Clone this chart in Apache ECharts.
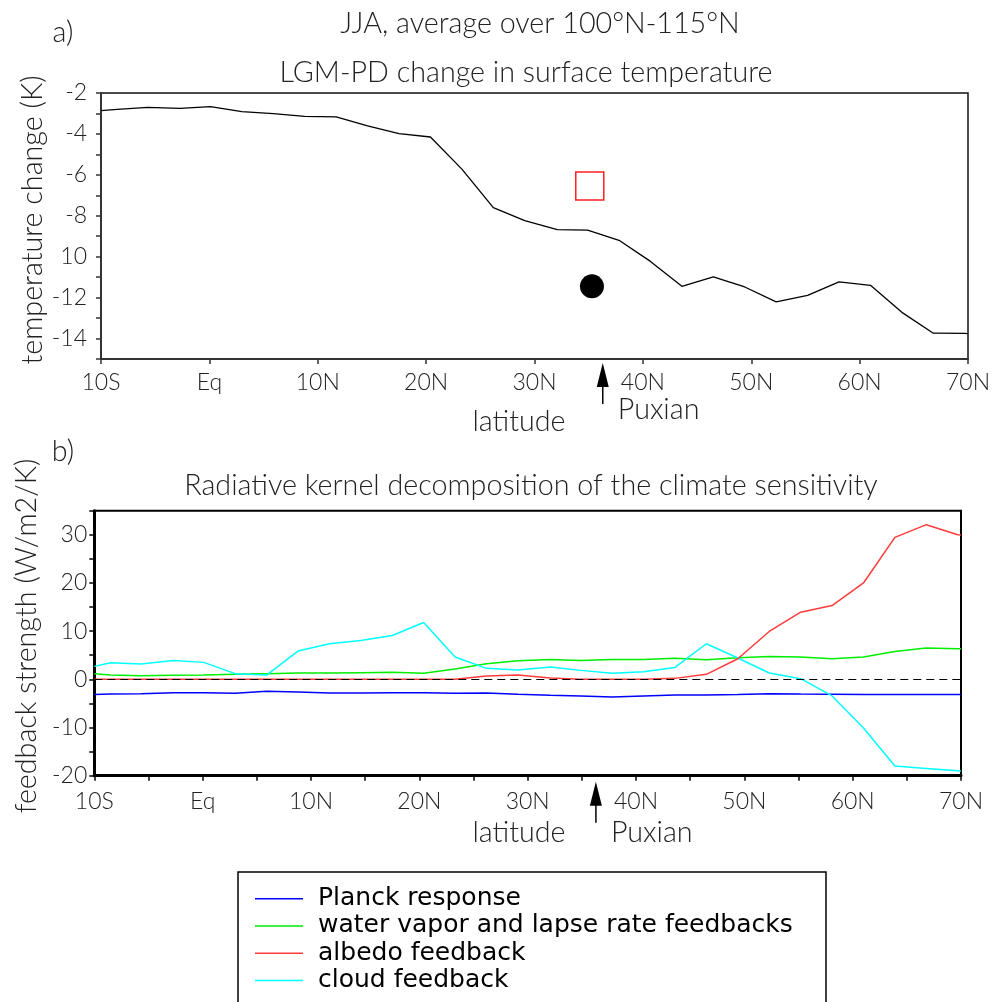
<!DOCTYPE html>
<html><head><meta charset="utf-8">
<script src="https://cdn.jsdelivr.net/npm/echarts@6/dist/echarts.min.js"></script>
<style>html,body{margin:0;padding:0;background:#fff}#c{width:995px;height:1002px}</style>
</head><body><div id="c"></div>
<script>
// ---- data ----
const lats = [-10, -8.5, -5.7, -2.7, 0.1, 3.0, 5.9, 8.8, 11.7, 14.6, 17.5, 20.4, 23.3, 26.2, 29.1, 32.1, 34.9, 37.8, 40.7, 43.6, 46.5, 49.4, 52.3, 55.2, 58.1, 61.0, 63.9, 66.8, 69.7, 70];
const tempChange = [-2.86, -2.80, -2.70, -2.75, -2.67, -2.91, -3.01, -3.14, -3.17, -3.61, -3.99, -4.15, -5.72, -7.60, -8.24, -8.68, -8.70, -9.20, -10.23, -11.45, -10.99, -11.48, -12.21, -11.89, -11.23, -11.40, -12.72, -13.74, -13.75, -13.76];
const planck = [-3.17, -3.04, -2.97, -2.76, -2.76, -2.90, -2.48, -2.62, -2.83, -2.83, -2.76, -2.76, -2.90, -2.83, -3.10, -3.31, -3.45, -3.66, -3.45, -3.24, -3.24, -3.17, -2.97, -3.04, -3.10, -3.17, -3.17, -3.17, -3.17, -3.17];
const waterVapor = [1.18, 0.89, 0.77, 0.83, 0.89, 1.04, 1.18, 1.30, 1.30, 1.39, 1.45, 1.24, 2.14, 3.24, 3.86, 4.14, 3.93, 4.14, 4.14, 4.40, 4.07, 4.49, 4.76, 4.62, 4.28, 4.62, 5.80, 6.49, 6.35, 6.35];
const albedo = [0, 0, 0, 0, 0, 0, 0, 0, 0, 0, 0, 0, 0, 0.69, 0.90, 0.28, 0, 0, 0, 0.20, 1.04, 4.28, 9.94, 13.93, 15.32, 20.0, 29.46, 32.1, 30.0, 29.96];
const cloud = [2.69, 3.46, 3.17, 3.93, 3.52, 1.18, 0.89, 5.86, 7.39, 8.07, 9.11, 11.8, 4.62, 2.28, 1.93, 2.55, 1.86, 1.24, 1.59, 2.48, 7.39, 4.42, 1.31, 0.14, -3.45, -10.08, -18.0, -18.5, -18.98, -19.0];
const pollenPoint = [35.1, -6.55];
const modelPoint = [35.3, -11.45];
const puxianLat = 36.3;
const xTickValues = [-10, 0, 10, 20, 30, 40, 50, 60, 70];
const xTickLabels = ['10S', 'Eq', '10N', '20N', '30N', '40N', '50N', '60N', '70N'];
const yTopTickValues = [-14, -12, -10, -8, -6, -4, -2];
const yTopTickLabels = ['-14', '-12', '10', '-8', '-6', '-4', '-2'];
const yBotTickValues = [-20, -10, 0, 10, 20, 30];
const yBotTickLabels = ['-20', '-10', '0', '10', '20', '30'];
const seriesNames = ['Planck response', 'water vapor and lapse rate feedbacks', 'albedo feedback', 'cloud feedback'];
const seriesColors = ['#0000ff', '#00ee00', '#ff3b3b', '#00ffff'];

// ---- chart ----
const pair = arr => lats.map((x, i) => [x, arr[i]]);
const lookup = (vals, labs) => v => { const i = vals.indexOf(v); return i >= 0 ? labs[i] : ''; };
const FONT = 'Lato';
const TXT = '#222';
const chart = echarts.init(document.getElementById('c'), null, {renderer: 'canvas'});

const axisLabelStyle = {fontFamily: FONT, fontSize: 23, fontWeight: 300, color: TXT};

const option = {
  animation: false,
  backgroundColor: '#fff',
  grid: [
    {left: 101, top: 93, right: 27, bottom: 643, show: true, borderColor: '#111', borderWidth: 1.5},
    {left: 94.3, top: 510.7, right: 34, bottom: 226.3, show: true, borderColor: '#000', borderWidth: 2}
  ],
  xAxis: [
    {gridIndex: 0, type: 'value', min: -10, max: 70, interval: 10,
     axisLine: {onZero: false, lineStyle: {color: '#333', width: 2}},
     axisTick: {show: true, length: 5, lineStyle: {color: '#333', width: 1.5}},
     axisLabel: Object.assign({margin: 12, formatter: lookup(xTickValues, xTickLabels)}, axisLabelStyle),
     splitLine: {show: false}},
    {gridIndex: 1, type: 'value', min: -10, max: 70, interval: 5,
     axisLine: {onZero: false, lineStyle: {color: '#000', width: 3}},
     axisTick: {show: true, length: 5, lineStyle: {color: '#000', width: 1.5}},
     axisLabel: Object.assign({margin: 14, formatter: lookup(xTickValues, xTickLabels), showMinLabel: true, showMaxLabel: true}, axisLabelStyle),
     splitLine: {show: false}}
  ],
  yAxis: [
    {gridIndex: 0, type: 'value', min: -15, max: -2, interval: 1,
     axisLine: {show: true, onZero: false, lineStyle: {color: '#333', width: 2}},
     axisTick: {show: true, length: 5, lineStyle: {color: '#333', width: 1.5}},
     axisLabel: Object.assign({margin: 14, formatter: lookup(yTopTickValues, yTopTickLabels), showMinLabel: true, showMaxLabel: true}, axisLabelStyle),
     splitLine: {show: false}},
    {gridIndex: 1, type: 'value', min: -20, max: 35, interval: 5,
     axisLine: {show: true, onZero: false, lineStyle: {color: '#000', width: 3}},
     axisTick: {show: true, length: 5, lineStyle: {color: '#000', width: 1.5}},
     axisLabel: Object.assign({margin: 7, formatter: lookup(yBotTickValues, yBotTickLabels), showMinLabel: true, showMaxLabel: true}, axisLabelStyle),
     splitLine: {show: false}}
  ],
  legend: {
    orient: 'vertical', left: 255, top: 885, padding: 0,
    itemGap: 0, itemWidth: 48, itemHeight: 1.5, icon: 'rect',
    textStyle: {fontFamily: 'DejaVu Sans', fontSize: 25, color: '#000', lineHeight: 27.3, padding: [0, 0, 0, 10]},
    data: seriesNames
  },
  series: [
    {type: 'line', name: 'temperature change', xAxisIndex: 0, yAxisIndex: 0, data: pair(tempChange),
     symbol: 'none', lineStyle: {color: '#000', width: 1.3}, itemStyle: {color: '#000'}},
    {type: 'scatter', name: 'pollen', xAxisIndex: 0, yAxisIndex: 0, data: [pollenPoint],
     symbol: 'rect', symbolSize: 28, itemStyle: {color: 'rgba(0,0,0,0)', borderColor: '#ff2020', borderWidth: 1.5, opacity: 1}},
    {type: 'scatter', name: 'model', xAxisIndex: 0, yAxisIndex: 0, data: [modelPoint],
     symbol: 'circle', symbolSize: 24, itemStyle: {color: '#000', opacity: 1}},
    {type: 'line', name: seriesNames[0], xAxisIndex: 1, yAxisIndex: 1, data: pair(planck), symbol: 'none',
     lineStyle: {color: seriesColors[0], width: 1.5}, itemStyle: {color: seriesColors[0]}, z: 3,
     markLine: {silent: true, symbol: 'none', label: {show: false}, lineStyle: {type: [8, 5], color: '#000', width: 1}, data: [{yAxis: 0}]}},
    {type: 'line', name: seriesNames[1], xAxisIndex: 1, yAxisIndex: 1, data: pair(waterVapor), symbol: 'none',
     lineStyle: {color: seriesColors[1], width: 1.5}, itemStyle: {color: seriesColors[1]}, z: 3},
    {type: 'line', name: seriesNames[2], xAxisIndex: 1, yAxisIndex: 1, data: pair(albedo), symbol: 'none',
     lineStyle: {color: seriesColors[2], width: 1.5}, itemStyle: {color: seriesColors[2]}, z: 4},
    {type: 'line', name: seriesNames[3], xAxisIndex: 1, yAxisIndex: 1, data: pair(cloud), symbol: 'none',
     lineStyle: {color: seriesColors[3], width: 1.5}, itemStyle: {color: seriesColors[3]}, z: 3}
  ]
};
chart.setOption(option);

function txt(text, x, y, opts) {
  return Object.assign({type: 'text', x: x, y: y, silent: true,
    style: Object.assign({text: text, font: '300 28.7px ' + FONT, fill: TXT, align: 'center', verticalAlign: 'middle'}, (opts && opts.style) || {})},
    opts && opts.rotation ? {rotation: opts.rotation} : {});
}
function arrow(x, tipY, tailY) {
  return [
    {type: 'line', silent: true, shape: {x1: x, y1: tipY + 18, x2: x, y2: tailY}, style: {stroke: '#000', lineWidth: 1.5}},
    {type: 'polygon', silent: true, shape: {points: [[x, tipY], [x - 6, tipY + 24], [x + 6, tipY + 24]]}, style: {fill: '#000'}}
  ];
}
const pTop = chart.convertToPixel({gridIndex: 0}, [puxianLat, -15]);
const pBot = chart.convertToPixel({gridIndex: 1}, [puxianLat, -20]);
const graphics = [
  {type: 'rect', silent: true, shape: {x: 238, y: 872, width: 588, height: 200}, style: {fill: 'none', stroke: '#000', lineWidth: 1.5}},
  txt('a)', 63, 33),
  txt('JJA, average over 100°N-115°N', 540, 24),
  txt('LGM-PD change in surface temperature', 526, 73),
  txt('temperature change (K)', 33, 220, {rotation: Math.PI / 2}),
  txt('latitude', 519, 422),
  txt('Puxian', pTop[0] + 15, pTop[1] + 51, {style: {align: 'left'}}),
  txt('b)', 63, 452),
  txt('Radiative kernel decomposition of the climate sensitivity', 531, 486),
  txt('feedback strength (W/m2/K)', 27, 636, {rotation: Math.PI / 2}),
  txt('latitude', 519, 833),
  txt('Puxian', pBot[0] + 15, pBot[1] + 57, {style: {align: 'left'}})
].concat(arrow(pTop[0], pTop[1] + 4, pTop[1] + 45)).concat(arrow(pBot[0], pBot[1] + 6, pBot[1] + 47));
chart.setOption({graphic: graphics});
</script>
</body></html>
